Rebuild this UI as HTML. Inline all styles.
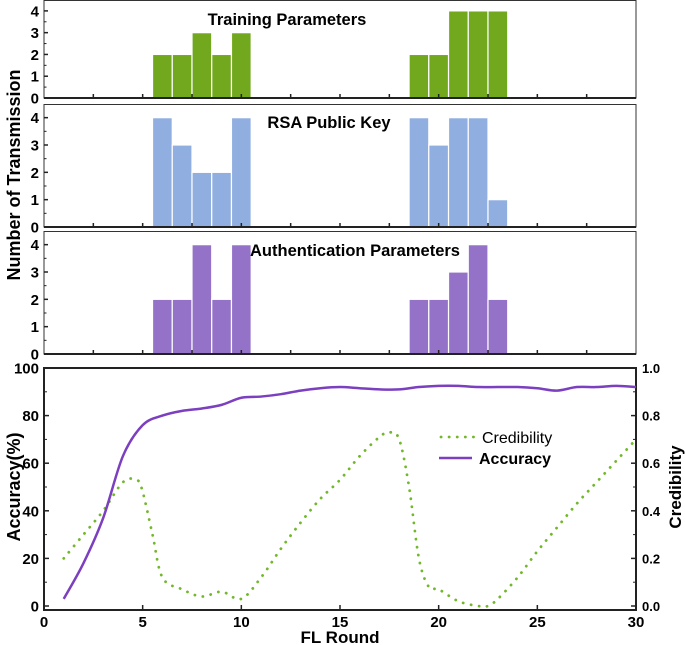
<!DOCTYPE html>
<html><head><meta charset="utf-8"><style>
body{margin:0;background:#fff}
svg{display:block;font-family:"Liberation Sans",Arial,sans-serif;font-weight:bold}
</style></head><body>
<svg id="c" width="685" height="645"></svg>
<script>
const barCenters1=[6,7,8,9,10,19,20,21,22,23];
const trainingVals=[2,2,3,2,3,2,2,4,4,4];
const rsaVals=[4,3,2,2,4,4,3,4,4,1];
const authVals=[2,2,4,2,4,2,2,3,4,2];
const histTicks=[0,1,2,3,4];
const rounds=[1,2,3,4,5,6,7,8,9,10,11,12,13,14,15,16,17,18,19,20,21,22,23,24,25,26,27,28,29,30];
const accuracy=[3,18,37,63,76,80,82,83,84.5,87.5,88,89,90.5,91.5,92,91.5,91,91,92,92.5,92.5,92,92,92,91.5,90.5,92,92,92.5,92];
const credX=[1,2,3,4,4.7,5,5.5,6,7,8,9,10,11,12,13,14,15,16,17,17.5,18,18.5,19,19.5,20,21,22,22.5,23,24,25,26,27,28,29,30];
const credibility=[0.20,0.30,0.40,0.52,0.53,0.48,0.30,0.12,0.07,0.04,0.06,0.03,0.12,0.24,0.35,0.45,0.53,0.63,0.71,0.73,0.70,0.50,0.20,0.08,0.07,0.02,0.0,0.0,0.03,0.12,0.23,0.33,0.43,0.52,0.61,0.70];
const xTicks=[0,5,10,15,20,25,30];
const accTicks=[0,20,40,60,80,100];
const credTicks=["0.0","0.2","0.4","0.6","0.8","1.0"];

const NS="http://www.w3.org/2000/svg";
const svg=document.getElementById('c');
function el(t,a,p){const e=document.createElementNS(NS,t);for(const k in a)e.setAttribute(k,a[k]);(p||svg).appendChild(e);return e;}
function smooth(pts){let d="M"+pts[0][0]+","+pts[0][1];for(let i=0;i<pts.length-1;i++){const p0=pts[i-1]||pts[i],p1=pts[i],p2=pts[i+1],p3=pts[i+2]||p2;
 d+=" C"+(p1[0]+(p2[0]-p0[0])/6)+","+(p1[1]+(p2[1]-p0[1])/6)+" "+(p2[0]-(p3[0]-p1[0])/6)+","+(p2[1]-(p3[1]-p1[1])/6)+" "+p2[0]+","+p2[1];}return d;}
const X0=44,X1=636;
const sx=v=>X0+(v)/30*(X1-X0);

const panels=[
 {vals:trainingVals,top:0,base:98,title:"Training Parameters",tx:287,ty:25,fill:"#72a81e",name:"training"},
 {vals:rsaVals,top:104,base:227,title:"RSA Public Key",tx:329,ty:128,fill:"#90aedf",name:"rsa"},
 {vals:authVals,top:231,base:354,title:"Authentication Parameters",tx:355,ty:256,fill:"#9372c8",name:"auth"}
];
panels.forEach(p=>{
  const g=el('g',{});
  
  
  const sy=v=>p.base-v/4.5*(p.base-p.top);
  p.vals.forEach((v,i)=>{
    const r=el('rect',{x:sx(barCenters1[i]-0.5),y:sy(v),width:sx(1)-sx(0),height:p.base-sy(v),fill:p.fill,stroke:"#fff","stroke-width":1.2},g);
    
    
  });
  el('rect',{x:X0,y:p.top+0.5,width:X1-X0,height:p.base-p.top-0.5,fill:"none",stroke:"#333","stroke-width":1},g);
  el('line',{x1:X0,y1:p.base,x2:X1,y2:p.base,stroke:"#222","stroke-width":2},g);
  histTicks.forEach(t=>{
    el('line',{x1:X0,y1:sy(t),x2:X0+4,y2:sy(t),stroke:"#222","stroke-width":1.5},g);
    const tl=el('text',{x:X0-5,y:sy(t)+5.5,"text-anchor":"end","font-size":15},g);tl.textContent=t;
    
    
    if(t<4)el('line',{x1:X0,y1:sy(t+0.5),x2:X0+2.5,y2:sy(t+0.5),stroke:"#222","stroke-width":1},g);
  });
  for(let t=2.5;t<30;t+=2.5)el('line',{x1:sx(t),y1:p.base,x2:sx(t),y2:p.base-4,stroke:"#222","stroke-width":1.5},g);
  const tt=el('text',{x:p.tx,y:p.ty,"text-anchor":"middle","font-size":16.5},g);tt.textContent=p.title;
  
  
});
const yt=el('text',{x:0,y:0,transform:"translate(20,175) rotate(-90)","text-anchor":"middle","font-size":18});yt.textContent="Number of Transmission";



// bottom chart
const T=368,B=606;
const sa=v=>B-v/100*(B-T);
const sc=v=>B-v*(B-T);
el('rect',{x:X0,y:T,width:X1-X0,height:242,fill:"none",stroke:"#222","stroke-width":2});
xTicks.forEach(t=>{
  el('line',{x1:sx(t),y1:610,x2:sx(t),y2:605,stroke:"#222","stroke-width":1.5});
  const l=el('text',{x:sx(t),y:627,"text-anchor":"middle","font-size":15});l.textContent=t;
  
  
});
accTicks.forEach((t,i)=>{
  el('line',{x1:X0,y1:sa(t),x2:X0+5,y2:sa(t),stroke:"#222","stroke-width":1.5});
  el('line',{x1:X1,y1:sa(t),x2:X1-5,y2:sa(t),stroke:"#222","stroke-width":1.5});
  if(i<5){el('line',{x1:X0,y1:sa(t+10),x2:X0+3,y2:sa(t+10),stroke:"#222"});el('line',{x1:X1,y1:sa(t+10),x2:X1-3,y2:sa(t+10),stroke:"#222"});}
  const l=el('text',{x:X0-5,y:sa(t)+5.5,"text-anchor":"end","font-size":15});l.textContent=t;
  
  
  const r=el('text',{x:X1+6,y:sa(t)+5,"text-anchor":"start","font-size":13});r.textContent=credTicks[i];
  
  
});
const cred=el('path',{d:smooth(credX.map((x,i)=>[sx(x),sc(credibility[i])])),fill:"none",stroke:"#72b82a","stroke-width":2.8,"stroke-dasharray":"0.1 8","stroke-linecap":"round"});


const acc=el('path',{d:smooth(rounds.map((x,i)=>[sx(x),sa(accuracy[i])])),fill:"none",stroke:"#7b3fbf","stroke-width":2.5,"stroke-linejoin":"round"});


el('line',{x1:441,y1:437,x2:474,y2:437,stroke:"#72b82a","stroke-width":2.8,"stroke-dasharray":"0.1 8","stroke-linecap":"round"});
const l1=el('text',{x:482,y:443,"font-size":16,"font-weight":"normal"});l1.textContent="Credibility";


el('line',{x1:439,y1:458,x2:472,y2:458,stroke:"#7b3fbf","stroke-width":2.5});
const l2=el('text',{x:479,y:464,"font-size":16});l2.textContent="Accuracy";


const xt=el('text',{x:340,y:643,"text-anchor":"middle","font-size":17});xt.textContent="FL Round";


const at=el('text',{x:0,y:0,transform:"translate(20,487) rotate(-90)","text-anchor":"middle","font-size":18});at.textContent="Accuracy(%)";


const ct=el('text',{x:0,y:0,transform:"translate(681,487) rotate(-90)","text-anchor":"middle","font-size":17});ct.textContent="Credibility";


</script>
</body></html>
